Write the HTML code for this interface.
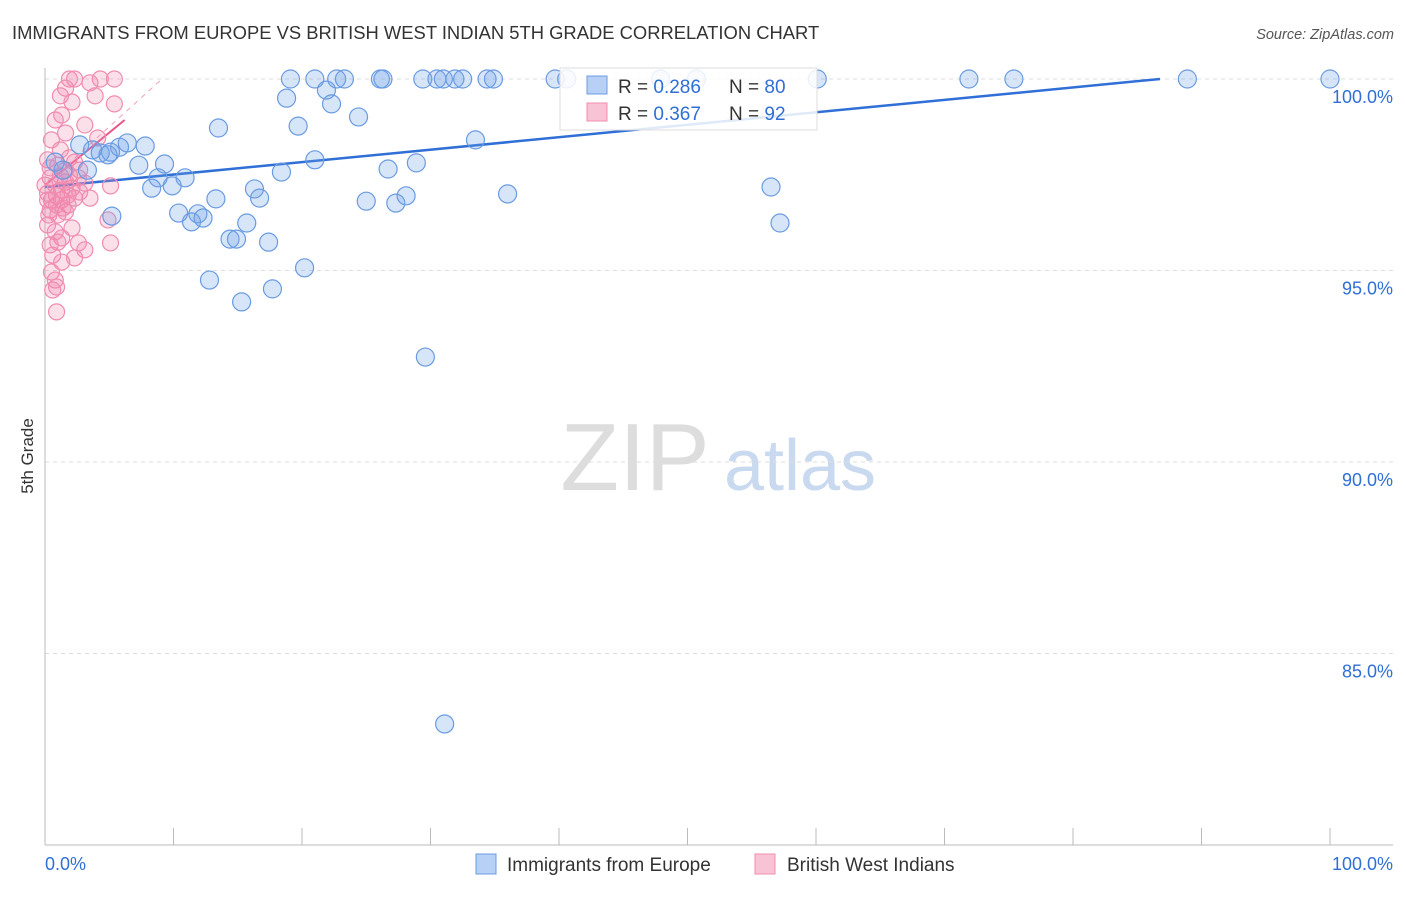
<!DOCTYPE html>
<html><head><meta charset="utf-8"><style>
body{margin:0;background:#fff;font-family:"Liberation Sans",sans-serif;}
svg text{font-family:"Liberation Sans",sans-serif;}
</style></head><body>
<svg id="chart" width="1406" height="892" xmlns="http://www.w3.org/2000/svg">
<text x="12" y="39" font-size="18.4" fill="#333">IMMIGRANTS FROM EUROPE VS BRITISH WEST INDIAN 5TH GRADE CORRELATION CHART</text>
<text x="1394" y="39" font-size="14.5" fill="#555" text-anchor="end" font-style="italic">Source: ZipAtlas.com</text>
<text transform="translate(33,456) rotate(-90)" font-size="17" fill="#333" text-anchor="middle">5th Grade</text>
<g>
<text x="635" y="490" font-size="96" fill="#ddd" text-anchor="middle" font-family="Liberation Serif">ZIP</text>
<text x="800" y="490" font-size="72" fill="#c9d9f0" text-anchor="middle">atlas</text>
</g>
<g id="grid"></g>
<g id="trend"></g>
<g id="pts"></g>
<g>
<rect x="560" y="68" width="257" height="62" fill="#fff" fill-opacity="0.85" stroke="#ddd"/>
<rect x="587" y="76" width="20" height="18" fill="#b8d0f5" stroke="#6a9be0"/>
<text x="618" y="93" font-size="19" fill="#333">R = <tspan fill="#2f6fd6">0.286</tspan></text>
<text x="729" y="93" font-size="19" fill="#333">N = <tspan fill="#2f6fd6">80</tspan></text>
<rect x="587" y="103" width="20" height="18" fill="#f8c4d5" stroke="#f08cb0"/>
<text x="618" y="120" font-size="19" fill="#333">R = <tspan fill="#2f6fd6">0.367</tspan></text>
<text x="729" y="120" font-size="19" fill="#333">N = <tspan fill="#2f6fd6">92</tspan></text>
</g>
<g>
<rect x="476" y="854" width="20" height="20" fill="#b8d0f5" stroke="#6a9be0"/>
<text x="507" y="871" font-size="19" fill="#333">Immigrants from Europe</text>
<rect x="755" y="854" width="20" height="20" fill="#f8c4d5" stroke="#f08cb0"/>
<text x="787" y="871" font-size="19" fill="#333">British West Indians</text>
</g>
</svg>
<script>
const yTicks=[100,95,90,85];
const yTickLabels=["100.0%","95.0%","90.0%","85.0%"];
const xTicks=[0,10,20,30,40,50,60,70,80,90,100];
const blueX=[19.1,21.0,22.7,23.3,26.1,26.3,29.4,30.5,31.0,31.9,32.5,34.4,34.9,39.7,40.6,47.9,50.7,60.1,71.9,75.4,88.9,100,
18.8,21.9,22.3,24.4,13.5,19.7,33.5,2.7,3.7,4.3,5.1,5.8,6.4,7.8,4.9,7.3,9.3,8.8,10.9,8.3,9.9,0.8,1.4,3.3,21.0,26.7,28.9,18.4,16.3,16.7,13.3,25.0,27.3,28.1,36.0,56.5,57.2,10.4,11.9,11.4,12.3,5.2,14.4,14.9,15.7,17.4,20.2,12.8,15.3,17.7,29.6,31.1];
const blueY=[100,100,100,100,100,100,100,100,100,100,100,100,100,100,100,100,100,100,100,100,100,100,
99.50,99.71,99.35,99.01,98.72,98.77,98.41,98.28,98.15,98.07,98.09,98.22,98.33,98.25,98.02,97.75,97.78,97.42,97.42,97.15,97.21,97.83,97.62,97.62,97.89,97.65,97.81,97.57,97.13,96.89,96.87,96.81,96.76,96.95,97.00,97.18,96.24,96.50,96.48,96.27,96.37,96.42,95.82,95.82,96.24,95.74,95.07,94.75,94.18,94.52,92.74,83.16];
const pinkX=[1.9,2.3,4.3,5.4,3.5,1.6,1.2,2.1,3.9,5.4,1.3,3.1,0.8,1.6,4.1,0.5,1.2,1.9,0.2,1.0,2.3,2.7,0.4,0.8,1.6,2.1,3.1,5.1,0.2,0.9,1.3,1.8,2.3,3.5,0.4,1.0,1.6,0.2,0.8,1.3,2.1,4.9,0.4,1.0,2.6,5.1,3.1,0.6,1.3,2.3,0.5,0.8,0.9,0.6,0.9,1.2,1.6,1.9,2.6,0.4,1.3,1.8,2.7,0.5,0.9,1.4,0,0.2,0.3];
const pinkY=[100,100,100,100,99.90,99.76,99.56,99.40,99.56,99.35,99.06,98.80,98.93,98.59,98.46,98.41,98.15,97.94,97.89,97.75,97.83,97.62,97.42,97.23,97.31,97.15,97.28,97.21,97.02,96.95,96.84,96.71,96.89,96.89,96.58,96.45,96.53,96.19,96.01,95.85,96.11,96.32,95.67,95.74,95.72,95.72,95.54,95.40,95.22,95.33,94.96,94.75,94.57,94.49,93.92,97.47,97.62,97.49,97.42,97.68,97.10,96.97,97.05,96.84,96.71,96.63,97.23,96.84,96.45];
const blueTrend=[97.18,0.0325];
const pinkTrend=[97.23,0.274];
const NS="http://www.w3.org/2000/svg";
const X0=45,X1=1330,YTOP=79,PPY=38.3;
const sx=v=>X0+(X1-X0)*v/100;
const sy=v=>YTOP+(100-v)*PPY;
function mk(tag,attrs,parent){const e=document.createElementNS(NS,tag);for(const k in attrs)e.setAttribute(k,attrs[k]);parent.appendChild(e);return e;}
const grid=document.getElementById('grid');
yTicks.forEach((t,i)=>{
 const l=mk('line',{x1:X0,x2:1393,y1:sy(t),y2:sy(t),stroke:'#ddd','stroke-dasharray':'4,4'},grid);
 
 
 const tx=mk('text',{x:1393,y:sy(t)+24,'font-size':18,fill:'#2f6fd6','text-anchor':'end'},grid);
 tx.textContent=yTickLabels[i];
 
 
});
const ax=mk('line',{x1:X0,x2:X0,y1:68,y2:845,stroke:'#bbb'},grid);


const bx=mk('line',{x1:X0,x2:1393,y1:845,y2:845,stroke:'#bbb'},grid);


xTicks.forEach(t=>{
 const l=mk('line',{x1:sx(t),x2:sx(t),y1:828,y2:845,stroke:'#bbb'},grid);
 
 
});
const xl0=mk('text',{x:45,y:870,'font-size':18,fill:'#2f6fd6'},grid);xl0.textContent='0.0%';


const xl1=mk('text',{x:1393,y:870,'font-size':18,fill:'#2f6fd6','text-anchor':'end'},grid);xl1.textContent='100.0%';


const pts=document.getElementById('pts');
pinkX.forEach((x,i)=>{
 const c=mk('circle',{cx:sx(x),cy:sy(pinkY[i]),r:8,fill:'rgba(240,130,170,0.25)',stroke:'#f08cb0','stroke-width':1.2},pts);
 
 
});
blueX.forEach((x,i)=>{
 const c=mk('circle',{cx:sx(x),cy:sy(blueY[i]),r:9,fill:'rgba(110,160,235,0.28)',stroke:'#6a9be0','stroke-width':1.2},pts);
 
 
});
const tr=document.getElementById('trend');
const bEnd=Math.min(100,(100-blueTrend[0])/blueTrend[1]);
const bl=mk('line',{x1:sx(0),y1:sy(blueTrend[0]),x2:sx(bEnd),y2:sy(blueTrend[0]+blueTrend[1]*bEnd),stroke:'#2f6fd6','stroke-width':2.5},tr);


const pEnd=(100-pinkTrend[0])/pinkTrend[1];
const pd=mk('line',{x1:sx(0),y1:sy(pinkTrend[0]),x2:sx(pEnd*0.9),y2:sy(100),stroke:'#f0a0c0','stroke-width':1,'stroke-dasharray':'5,5'},tr);


const pl=mk('line',{x1:sx(0),y1:sy(pinkTrend[0]),x2:sx(6.2),y2:sy(pinkTrend[0]+pinkTrend[1]*6.2),stroke:'#e8588a','stroke-width':2},tr);


</script>
</body></html>
